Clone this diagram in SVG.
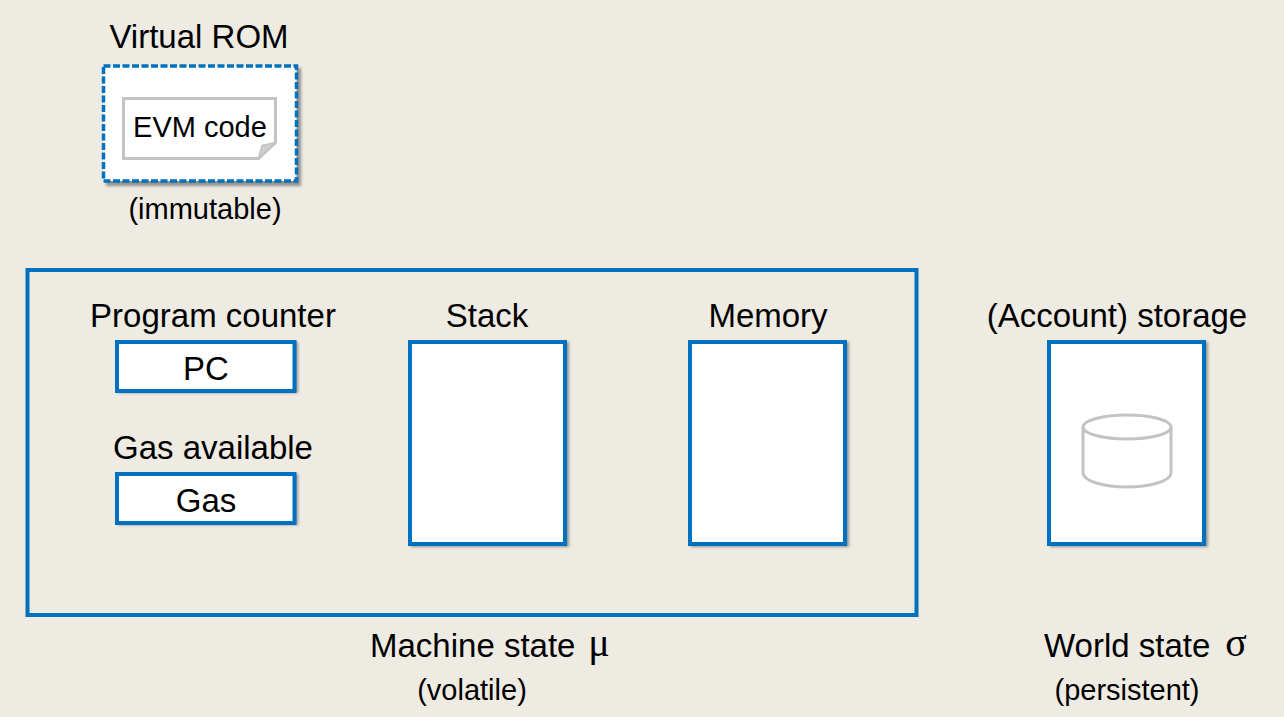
<svg xmlns="http://www.w3.org/2000/svg" width="1284" height="717" viewBox="0 0 1284 717">
<style>
text{font-family:"Liberation Sans",Arial,sans-serif;fill:#000;text-anchor:middle}
.t{font-size:33px}
.s{font-size:29px}
.g{font-family:"Liberation Serif","DejaVu Serif",serif;font-size:40px}
.b{fill:#fff;stroke:#0070c0;stroke-width:4}
.sh{fill:#000;opacity:.38;filter:url(#bl)}
.i{fill:none;stroke:#c3c3c3;stroke-width:3}
</style>
<defs><filter id="bl" x="-10%" y="-10%" width="120%" height="120%"><feGaussianBlur stdDeviation="1.4"/></filter></defs>
<rect width="1284" height="717" fill="#eeebe3"/>
<g id="connectors"/>
<g id="virtual-rom">
<text class="t" x="199" y="48">Virtual ROM</text>
<rect class="sh" x="106" y="68" width="195" height="118"/>
<rect x="103.500" y="66" width="193" height="115" fill="#fff"/>
<rect x="103.500" y="66" width="193" height="115" fill="none" stroke="#0070c0" stroke-width="3.500" stroke-dasharray="7 2.500"/>
<path d="M123.500 98.500H275.500V142.500L258.500 158.500H123.500Z" fill="#fff" stroke="#c3c3c3" stroke-width="3"/>
<path d="M258.500 158.500L262 145.500L275.500 142.500Z" fill="#cfcfcf" stroke="#c3c3c3" stroke-width="1.500"/>
<text class="s" x="200" y="137">EVM code</text>
<text class="s" x="205" y="219">(immutable)</text>
</g>
<g id="machine-state">
<rect x="27.500" y="270" width="889" height="345" fill="none" stroke="#0070c0" stroke-width="4"/>
<text class="t" x="370" y="657" style="text-anchor:start">Machine state</text>
<text class="g" x="599" y="656">μ</text>
<text class="s" x="472" y="700">(volatile)</text>
</g>
<g id="pc">
<text class="t" x="213" y="327">Program counter</text>
<rect class="sh" x="118" y="342" width="180" height="51"/>
<rect class="b" x="117" y="342" width="177.500" height="49"/>
<text class="t" x="206" y="380">PC</text>
</g>
<g id="gas">
<text class="t" x="213" y="459">Gas available</text>
<rect class="sh" x="118" y="474" width="180" height="51"/>
<rect class="b" x="117" y="474" width="177.500" height="49"/>
<text class="t" x="206" y="512">Gas</text>
</g>
<g id="stack">
<text class="t" x="487" y="327">Stack</text>
<rect class="sh" x="411" y="342" width="158" height="205"/>
<rect class="b" x="410" y="342" width="155" height="202"/>
</g>
<g id="memory">
<text class="t" x="768" y="327">Memory</text>
<rect class="sh" x="691" y="342" width="158" height="205"/>
<rect class="b" x="690" y="342" width="155" height="202"/>
</g>
<g id="storage">
<text class="t" x="1117" y="327">(Account) storage</text>
<rect class="sh" x="1050" y="342" width="158" height="205"/>
<rect class="b" x="1049" y="342" width="155" height="202"/>
<path class="i" d="M1083 427V473C1083 481 1104 487 1127 487S1171 481 1171 473V427"/>
<ellipse class="i" cx="1127" cy="427" rx="44" ry="12"/>
</g>
<g id="world-state">
<text class="t" x="1044" y="657" style="text-anchor:start">World state</text>
<text class="g" x="1236" y="656">σ</text>
<text class="s" x="1127" y="700">(persistent)</text>
</g>
</svg>
